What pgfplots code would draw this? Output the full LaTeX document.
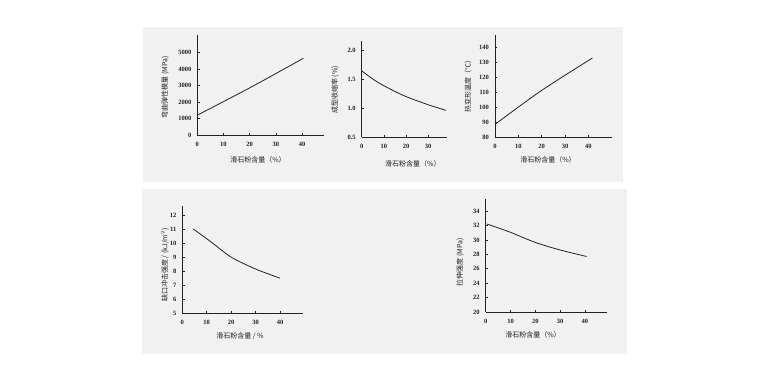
\documentclass[border=0pt]{standalone}
\usepackage{pgfplots}
\pgfplotsset{compat=1.18}
\usepackage{fontspec}
\setmainfont{Liberation Serif}
\newfontfamily\cjk{Noto Sans CJK SC}
\definecolor{panel}{HTML}{F1F1F1}
\definecolor{ink}{HTML}{222222}
\pgfplotsset{
  every axis/.append style={
    scale only axis,
    anchor=south west,
    axis x line*=bottom,
    axis y line*=left,
    axis line style={-, ink, line width=0.7pt},
    tick align=inside,
    major tick length=2.2pt,
    tick style={ink, line width=0.6pt},
    /pgf/number format/assume math mode=true,
    /pgf/number format/1000 sep={},
    scaled ticks=false,
    tick label style={font=\fontsize{6.5}{7}\selectfont\bfseries, text=ink},
    yticklabel style={xshift=-2.5pt},
    xticklabel style={yshift=-3.5pt},
    label style={font=\cjk\fontsize{7}{8}\selectfont, text=ink, anchor=center},
    clip=false,
  },
  curve/.style={ink, line width=0.8pt, smooth, tension=0.5, no markers},
}
\begin{document}
\begin{tikzpicture}
\path[fill=white] (0pt,0pt) rectangle (770pt,385pt);
\path[fill=panel] (143pt,203pt) rectangle (623pt,358pt);
\path[fill=panel] (142pt,31pt) rectangle (627pt,196pt);

% Plot 1
\begin{axis}[at={(197.3pt,250pt)}, width=126.7pt, height=100pt,
  xmin=0, xmax=48.4, ymin=0, ymax=6050,
  xtick={0,10,20,30,40}, ytick={0,1000,2000,3000,4000,5000},
  xlabel={滑石粉含量（\%）}, ylabel={弯曲弹性模量 (MPa)},
  xlabel style={at={(axis description cs:0.479,-0.25)}},
  ylabel style={at={(axis description cs:-0.255,0.48)}}]
\addplot[curve] coordinates {(0,1200) (20,2850) (40.5,4640)};
\end{axis}

% Plot 2
\begin{axis}[at={(361.7pt,248pt)}, width=85.3pt, height=96.3pt,
  xmin=0, xmax=38.5, ymin=0.5, ymax=2.16,
  xtick={0,10,20,30}, ytick={0.5,1.0,1.5,2.0},
  yticklabel style={/pgf/number format/.cd, fixed, fixed zerofill, precision=1},
  xlabel={滑石粉含量（\%）}, ylabel={成型收缩率 (\%)},
  xlabel style={at={(axis description cs:0.601,-0.28)}},
  ylabel style={at={(axis description cs:-0.313,0.488)}}]
\addplot[curve] coordinates {(0,1.64) (7.4,1.44) (18.6,1.22) (29.7,1.06) (38,0.96)};
\end{axis}

% Plot 3
\begin{axis}[at={(495pt,248pt)}, width=116.7pt, height=102pt,
  xmin=0, xmax=50, ymin=80, ymax=148.5,
  xtick={0,10,20,30,40}, ytick={80,90,100,110,120,130,140},
  xlabel={滑石粉含量（\%）}, ylabel={热变形温度（℃）},
  xlabel style={at={(axis description cs:0.454,-0.225)}},
  ylabel style={at={(axis description cs:-0.231,0.51)}}]
\addplot[curve] coordinates {(0,88.5) (20,111.3) (41.7,133)};
\end{axis}

% Plot 4
\begin{axis}[at={(182.3pt,71.7pt)}, width=121pt, height=107.6pt,
  xmin=0, xmax=49.5, ymin=5, ymax=12.66,
  xtick={0,10,20,30,40}, ytick={5,6,7,8,9,10,11,12},
  xlabel={滑石粉含量 / \%}, ylabel={缺口冲击强度 / (kJ/m$^{2}$)},
  xlabel style={at={(axis description cs:0.477,-0.211)}},
  ylabel style={at={(axis description cs:-0.143,0.449)}}]
\addplot[curve] coordinates {(4.5,11.0) (12,10.05) (20,9.0) (30,8.15) (40,7.5)};
\end{axis}

% Plot 5
\begin{axis}[at={(485.7pt,73pt)}, width=121pt, height=113pt,
  xmin=0, xmax=48.8, ymin=20, ymax=35.67,
  xtick={0,10,20,30,40}, ytick={20,22,24,26,28,30,32,34},
  xlabel={滑石粉含量（\%）}, ylabel={拉伸强度 (MPa)},
  xlabel style={at={(axis description cs:0.391,-0.204)}},
  ylabel style={at={(axis description cs:-0.212,0.442)}}]
\addplot[curve] coordinates {(0.5,32.2) (10,31.05) (20,29.65) (30,28.6) (40.7,27.7)};
\end{axis}
\end{tikzpicture}
\end{document}
